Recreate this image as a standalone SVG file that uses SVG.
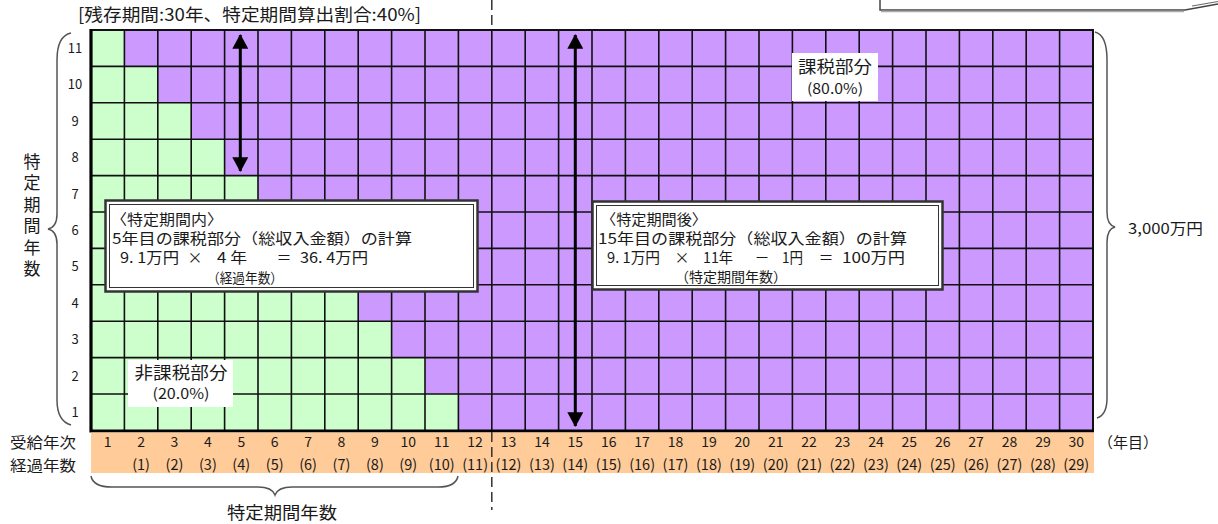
<svg xmlns="http://www.w3.org/2000/svg" width="1218" height="524" viewBox="0 0 1218 524">
<style>
text{font-family:"Noto Sans CJK JP","Liberation Sans",sans-serif;fill:#1a1a1a}
.num{font-size:14px;text-anchor:middle}
.par{font-size:14.5px;text-anchor:middle}
.rl{font-size:13px;text-anchor:middle}
.bx{font-size:15px}
.bs{font-size:14px}
.lbl{font-size:16.5px;text-anchor:middle}
.pct{font-size:14.5px;text-anchor:middle}
.vt{font-size:17px;writing-mode:vertical-rl;letter-spacing:4.5px}
.grid{fill:none;stroke:#111;stroke-width:1.6}
.brace{fill:none;stroke:#555;stroke-width:1.5}
.arrow{stroke:#000;stroke-width:3;fill:none;marker-start:url(#ah);marker-end:url(#ah)}
.outer{fill:#fff;stroke:#333;stroke-width:2.5}
.inner{fill:none;stroke:#333;stroke-width:1}
.wb{fill:#fff}
</style>
<defs>
<marker id="ah" markerUnits="userSpaceOnUse" markerWidth="16" markerHeight="16" viewBox="0 0 14 15" refX="13" refY="7.5" orient="auto-start-reverse">
<path d="M0,0 L14,7.5 L0,15 z" fill="#000"/>
</marker>
</defs>
<rect width="1218" height="524" fill="#fff"/>

<g id="title">
<text x="78" y="21" font-size="17" textLength="343" lengthAdjust="spacingAndGlyphs">[残存期間:30年、特定期間算出割合:40%]</text>
</g>

<g id="callout">
<path d="M880,0 V10 H1185 L1218,4" fill="none" stroke="#444" stroke-width="1.5"/>
<path d="M881,11.5 H1184" fill="none" stroke="#aaa" stroke-width="1.5"/>
<path d="M1192,6 L1218,1.5" fill="none" stroke="#666" stroke-width="1"/>
</g>

<g id="grid">
<rect x="91" y="30" width="1002" height="400.4" fill="#CC99FF"/>
<polygon fill="#CCFFCC" points="91,30 124.4,30 124.4,66.4 157.8,66.4 157.8,102.8 191.2,102.8 191.2,139.2 224.6,139.2 224.6,175.6 258,175.6 258,212 291.4,212 291.4,248.4 324.8,248.4 324.8,284.8 358.2,284.8 358.2,321.2 391.6,321.2 391.6,357.6 425,357.6 425,394 458.4,394 458.4,430.4 91,430.4"/>
<path class="grid" d="M124.4,30V430M157.8,30V430M191.2,30V430M224.6,30V430M258,30V430M291.4,30V430M324.8,30V430M358.2,30V430M391.6,30V430M425,30V430M458.4,30V430M491.8,30V430M525.2,30V430M558.6,30V430M592,30V430M625.4,30V430M658.8,30V430M692.2,30V430M725.6,30V430M759,30V430M792.4,30V430M825.8,30V430M859.2,30V430M892.6,30V430M926,30V430M959.4,30V430M992.8,30V430M1026.2,30V430M1059.6,30V430M91,66.4H1093M91,102.8H1093M91,139.2H1093M91,175.6H1093M91,212H1093M91,248.4H1093M91,284.8H1093M91,321.2H1093M91,357.6H1093M91,394H1093"/>
<path d="M91,30H1093V430.4" fill="none" stroke="#111" stroke-width="2"/>
<path d="M91,29V431H1094" fill="none" stroke="#000" stroke-width="3.2"/>
</g>

<g id="axis-band">
<rect x="91" y="432.5" width="1003" height="40.5" fill="#FFCC99"/>
</g>

<g id="row-labels">
<text class="rl" x="75" y="417">1</text>
<text class="rl" x="75" y="381">2</text>
<text class="rl" x="75" y="344">3</text>
<text class="rl" x="75" y="308">4</text>
<text class="rl" x="75" y="271">5</text>
<text class="rl" x="75" y="235">6</text>
<text class="rl" x="75" y="199">7</text>
<text class="rl" x="75" y="162">8</text>
<text class="rl" x="75" y="126">9</text>
<text class="rl" x="75" y="89">10</text>
<text class="rl" x="75" y="53">11</text>
</g>

<g id="y-axis-title">
<text class="vt" x="32" y="153">特定期間年数</text>
</g>

<g id="x-axis-labels">
<text x="10" y="448" font-size="15" textLength="66" lengthAdjust="spacingAndGlyphs">受給年次</text>
<text x="10" y="471" font-size="15" textLength="66" lengthAdjust="spacingAndGlyphs">経過年数</text>
<g class="num">
<text x="107.7" y="447">1</text><text x="141.1" y="447">2</text><text x="174.5" y="447">3</text><text x="207.9" y="447">4</text><text x="241.3" y="447">5</text><text x="274.7" y="447">6</text><text x="308.1" y="447">7</text><text x="341.5" y="447">8</text><text x="374.9" y="447">9</text><text x="408.3" y="447">10</text><text x="441.7" y="447">11</text><text x="475.1" y="447">12</text><text x="508.5" y="447">13</text><text x="541.9" y="447">14</text><text x="575.3" y="447">15</text><text x="608.7" y="447">16</text><text x="642.1" y="447">17</text><text x="675.5" y="447">18</text><text x="708.9" y="447">19</text><text x="742.3" y="447">20</text><text x="775.7" y="447">21</text><text x="809.1" y="447">22</text><text x="842.5" y="447">23</text><text x="875.9" y="447">24</text><text x="909.3" y="447">25</text><text x="942.7" y="447">26</text><text x="976.1" y="447">27</text><text x="1009.5" y="447">28</text><text x="1042.9" y="447">29</text><text x="1076.3" y="447">30</text>
</g>
<g class="par">
<text x="141.1" y="470">(1)</text><text x="174.5" y="470">(2)</text><text x="207.9" y="470">(3)</text><text x="241.3" y="470">(4)</text><text x="274.7" y="470">(5)</text><text x="308.1" y="470">(6)</text><text x="341.5" y="470">(7)</text><text x="374.9" y="470">(8)</text><text x="408.3" y="470">(9)</text><text x="441.7" y="470">(10)</text><text x="475.1" y="470">(11)</text><text x="508.5" y="470">(12)</text><text x="541.9" y="470">(13)</text><text x="575.3" y="470">(14)</text><text x="608.7" y="470">(15)</text><text x="642.1" y="470">(16)</text><text x="675.5" y="470">(17)</text><text x="708.9" y="470">(18)</text><text x="742.3" y="470">(19)</text><text x="775.7" y="470">(20)</text><text x="809.1" y="470">(21)</text><text x="842.5" y="470">(22)</text><text x="875.9" y="470">(23)</text><text x="909.3" y="470">(24)</text><text x="942.7" y="470">(25)</text><text x="976.1" y="470">(26)</text><text x="1009.5" y="470">(27)</text><text x="1042.9" y="470">(28)</text><text x="1076.3" y="470">(29)</text>
</g>
<text x="1098" y="448" font-size="15">（年目）</text>
</g>

<g id="braces">
<path class="brace" d="M71,33 Q57,36 57,60 L57,214 Q57,227 48,229 Q57,231 57,244 L57,400 Q57,421 71,425"/>
<path class="brace" d="M1095,32 Q1107,35 1107,60 L1107,212 Q1107,225 1115,227 Q1107,229 1107,242 L1107,398 Q1107,415 1097,418"/>
<path class="brace" d="M91,476 Q93,487 112,487 L258,487 Q272,487 275,495 Q278,487 292,487 L438,487 Q456,487 458,476"/>
</g>

<g id="total-label">
<text x="1128" y="234" font-size="15" textLength="75" lengthAdjust="spacingAndGlyphs">3,000万円</text>
</g>

<g id="x-title">
<text x="282" y="519" font-size="17" text-anchor="middle" textLength="110" lengthAdjust="spacingAndGlyphs">特定期間年数</text>
</g>

<g id="connectors">
<path d="M491.8,0 V30 M491.8,432 V510" fill="none" stroke="#333" stroke-width="1.5" stroke-dasharray="10,5"/>
<path class="arrow" d="M240.3,35 V171"/>
<path class="arrow" d="M575.3,35 V426"/>
</g>

<g id="taxable-label">
<rect class="wb" x="792" y="53" width="86" height="48"/>
<text class="lbl" x="835" y="73" textLength="74" lengthAdjust="spacingAndGlyphs">課税部分</text>
<text class="pct" x="835" y="94" textLength="56" lengthAdjust="spacingAndGlyphs">(80.0%)</text>
</g>

<g id="nontaxable-label">
<rect class="wb" x="128" y="360" width="105" height="47"/>
<text class="lbl" x="181" y="378.5" textLength="93" lengthAdjust="spacingAndGlyphs">非課税部分</text>
<text class="pct" x="181" y="399" textLength="57" lengthAdjust="spacingAndGlyphs">(20.0%)</text>
</g>

<g id="box-within">
<rect class="outer" x="105.5" y="200.5" width="372" height="91"/>
<rect class="inner" x="109.5" y="204.5" width="364" height="83"/>
<text class="bx" x="111" y="225" textLength="112" lengthAdjust="spacingAndGlyphs">〈特定期間内〉</text>
<text class="bx" x="112" y="244" textLength="300" lengthAdjust="spacingAndGlyphs">5年目の課税部分（総収入金額）の計算</text>
<text class="bx" x="120" y="263" textLength="59" lengthAdjust="spacingAndGlyphs">9. 1万円</text>
<text class="bx" x="195" y="263" text-anchor="middle">×</text>
<text class="bx" x="217" y="263" textLength="30" lengthAdjust="spacingAndGlyphs">4 年</text>
<text class="bx" x="284" y="263" text-anchor="middle">＝</text>
<text class="bx" x="300" y="263" textLength="68" lengthAdjust="spacingAndGlyphs">36. 4万円</text>
<text class="bs" x="207" y="282.5" textLength="76" lengthAdjust="spacingAndGlyphs">（経過年数）</text>
</g>

<g id="box-after">
<rect class="outer" x="592.5" y="201.5" width="350" height="88"/>
<rect class="inner" x="596.5" y="205.5" width="342" height="80"/>
<text class="bx" x="601" y="224.5" textLength="106" lengthAdjust="spacingAndGlyphs">〈特定期間後〉</text>
<text class="bx" x="598" y="243.5" textLength="309" lengthAdjust="spacingAndGlyphs">15年目の課税部分（総収入金額）の計算</text>
<text class="bx" x="607" y="263" textLength="53" lengthAdjust="spacingAndGlyphs">9. 1万円</text>
<text class="bx" x="682" y="263" text-anchor="middle">×</text>
<text class="bx" x="703" y="263" textLength="30" lengthAdjust="spacingAndGlyphs">11年</text>
<text class="bx" x="762" y="263" text-anchor="middle">－</text>
<text class="bx" x="782" y="263" textLength="21" lengthAdjust="spacingAndGlyphs">1円</text>
<text class="bx" x="826" y="263" text-anchor="middle">＝</text>
<text class="bx" x="842" y="263" textLength="63" lengthAdjust="spacingAndGlyphs">100万円</text>
<text class="bs" x="675" y="282" textLength="112" lengthAdjust="spacingAndGlyphs">（特定期間年数）</text>
</g>
</svg>
